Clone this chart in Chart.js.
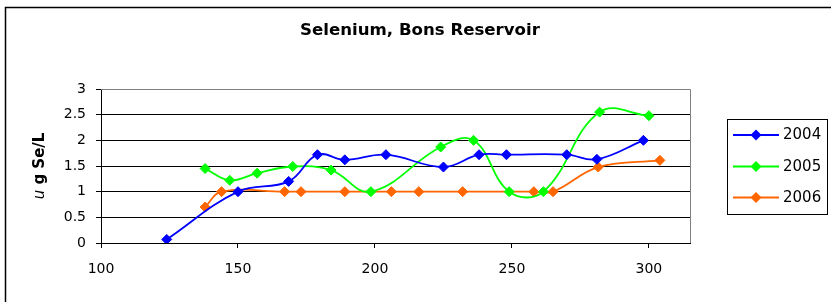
<!DOCTYPE html>
<html>
<head>
<meta charset="utf-8">
<script src="https://cdn.jsdelivr.net/npm/chart.js@4.4.1/dist/chart.umd.min.js"></script>
<style>
  html, body { margin: 0; padding: 0; background: #fff; }
</style>
</head>
<body>
<canvas id="seleniumChart" width="831" height="302"></canvas>
<script>
// values
const chartTitle = "Selenium, Bons Reservoir";
const seriesLabels = ["2004", "2005", "2006"];
const seriesColors = ["#0000FF", "#00FF00", "#FF6600"];

const days2004 = [124, 150, 168.5, 179, 189, 204, 225, 238, 248, 270, 281, 298];
const se2004   = [0.07, 1.0, 1.2, 1.72, 1.62, 1.72, 1.48, 1.72, 1.72, 1.72, 1.63, 2.0];

const days2005 = [138, 147, 157, 170, 184, 198.5, 224, 236, 249, 261.5, 282, 300];
const se2005   = [1.45, 1.22, 1.36, 1.49, 1.42, 1.0, 1.87, 2.0, 1.0, 1.0, 2.55, 2.48];

const days2006 = [138, 144, 167, 173, 189, 206, 216, 232, 258, 265, 281.5, 304];
const se2006   = [0.7, 1.0, 1.0, 1.0, 1.0, 1.0, 1.0, 1.0, 1.0, 1.0, 1.48, 1.61];

const xTicks = [100, 150, 200, 250, 300];
const yTicks = [0, 0.5, 1, 1.5, 2, 2.5, 3];

const FONT = "'DejaVu Sans', 'Liberation Sans', Arial, sans-serif";

function toPoints(xs, ys) {
    return xs.map((x, i) => ({ x: x, y: ys[i] }));
}

const allDays = [days2004, days2005, days2006];
const allValues = [se2004, se2005, se2006];

const datasets = seriesLabels.map((label, i) => ({
    label: label,
    data: toPoints(allDays[i], allValues[i]),
    borderColor: seriesColors[i],
    backgroundColor: seriesColors[i],
    borderWidth: 1.8,
    pointStyle: "rectRot",
    pointRadius: 5,
    pointHoverRadius: 5,
    pointBorderWidth: 1,
    tension: 0.4,
    fill: false
}));

// frame, title, plot border, legend box and the y axis title
const decorations = {
    id: "decorations",
    beforeDraw(chart) {
        const c = chart.ctx;
        c.save();
        c.fillStyle = "#fff";
        c.fillRect(0, 0, chart.width, chart.height);
        c.strokeStyle = "#000";
        c.lineWidth = 1.5;
        c.strokeRect(5.5, 7.5, 900, 400);

        c.fillStyle = "#000";
        c.font = "bold 16.6px " + FONT;
        c.textAlign = "center";
        c.textBaseline = "middle";
        c.fillText(chartTitle, 420, 31);
        c.restore();
    },
    afterDatasetsDraw(chart) {
        const c = chart.ctx;
        const a = chart.chartArea;
        c.save();
        c.strokeStyle = "#808080";
        c.lineWidth = 1;
        c.beginPath();
        c.moveTo(a.left, Math.round(a.top) + 0.5);
        c.lineTo(Math.round(a.right) + 0.5, Math.round(a.top) + 0.5);
        c.lineTo(Math.round(a.right) + 0.5, a.bottom);
        c.stroke();
        c.restore();
    },
    afterDraw(chart) {
        const c = chart.ctx;
        c.save();

        // legend
        const box = { x: 727.5, y: 119.5, w: 100, h: 95 };
        c.strokeStyle = "#000";
        c.lineWidth = 1;
        c.strokeRect(box.x, box.y, box.w, box.h);
        const rowY = [135, 166.5, 197.5];
        chart.data.datasets.forEach((ds, i) => {
            const y = rowY[i];
            c.strokeStyle = ds.borderColor;
            c.fillStyle = ds.backgroundColor;
            c.lineWidth = 1.8;
            c.beginPath();
            c.moveTo(733, y);
            c.lineTo(779, y);
            c.stroke();
            const r = 5.5;
            c.beginPath();
            c.moveTo(756, y - r);
            c.lineTo(756 + r, y);
            c.lineTo(756, y + r);
            c.lineTo(756 - r, y);
            c.closePath();
            c.fill();
            c.fillStyle = "#000";
            c.font = "15px " + FONT;
            c.textBaseline = "middle";
            c.textAlign = "left";
            c.fillText(ds.label, 783, y + 0.5);
        });

        // y axis title, italic u then bold text
        c.translate(40, 166);
        c.rotate(-Math.PI / 2);
        c.textBaseline = "middle";
        c.textAlign = "left";
        const partA = "u";
        const partB = " g Se/L";
        c.font = "italic 15px " + FONT;
        const wA = c.measureText(partA).width;
        c.font = "bold 15px " + FONT;
        const wB = c.measureText(partB).width;
        const x0 = -(wA + wB) / 2;
        c.fillStyle = "#000";
        c.font = "italic 15px " + FONT;
        c.fillText(partA, x0, 0);
        c.font = "bold 15px " + FONT;
        c.fillText(partB, x0 + wA, 0);
        c.restore();
    }
};

const chart = new Chart(document.getElementById("seleniumChart"), {
    type: "line",
    data: { datasets: datasets },
    options: {
        responsive: false,
        animation: false,
        events: [],
        layout: { padding: { top: 89, left: 0, right: 141, bottom: 0 } },
        plugins: {
            legend: { display: false },
            tooltip: { enabled: false },
            title: { display: false }
        },
        scales: {
            x: {
                type: "linear",
                min: 100,
                max: 315,
                afterFit(scale) { scale.height = 59; },
                afterBuildTicks(scale) { scale.ticks = xTicks.map(v => ({ value: v })); },
                ticks: {
                    autoSkip: false,
                    maxRotation: 0,
                    color: "#000",
                    padding: 13,
                    font: { family: FONT, size: 14 },
                    callback: v => String(v)
                },
                grid: {
                    drawOnChartArea: false,
                    drawTicks: true,
                    tickLength: 5,
                    tickColor: "#000"
                },
                border: { color: "#000", width: 1 }
            },
            y: {
                min: 0,
                max: 3,
                afterFit(scale) { scale.width = 101; },
                afterBuildTicks(scale) { scale.ticks = yTicks.map(v => ({ value: v })); },
                ticks: {
                    autoSkip: false,
                    color: "#000",
                    padding: 10,
                    font: { family: FONT, size: 14 },
                    callback: v => String(v)
                },
                grid: {
                    color: ctx => (ctx.tick && ctx.tick.value === 3 ? "#808080" : "#000"),
                    lineWidth: 1,
                    tickLength: 5,
                    tickColor: "#000"
                },
                border: { color: "#000", width: 1 }
            }
        }
    },
    plugins: [decorations]
});
</script>
</body>
</html>
